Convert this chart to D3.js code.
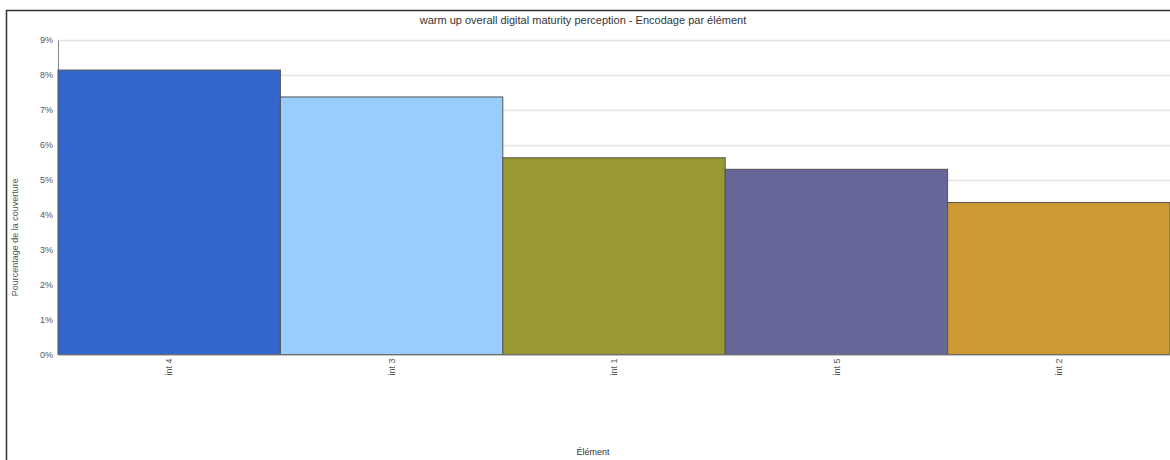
<!DOCTYPE html>
<html><head><meta charset="utf-8">
<script src="https://cdn.jsdelivr.net/npm/d3@7/dist/d3.min.js"></script>
<style>body{margin:0;background:#fff}svg{display:block}text{font-family:"Liberation Sans",Arial,sans-serif}</style>
</head><body><svg id="c" width="1170" height="460"></svg>
<script>
const categories = ["int 4","int 3","int 1","int 5","int 2"];
const values = [8.14, 7.37, 5.63, 5.30, 4.35];
const colors = ["#3366CC","#99CCFF","#999933","#666699","#CC9933"];
const yTicks = [0,1,2,3,4,5,6,7,8,9];
const title = "warm up overall digital maturity perception - Encodage par élément";
const xTitle = "Élément";
const yTitle = "Pourcentage de la couverture";

const svg = d3.select("#c");
const m = {left:58, right:1170, top:40, bottom:354.5};
const x = d3.scaleBand().domain(categories).range([m.left, m.right]).padding(0);
const y = d3.scaleLinear().domain([0,9]).range([m.bottom, m.top]);

// frame
svg.append("line").attr("x1",6).attr("x2",1170).attr("y1",10.5).attr("y2",10.5).attr("stroke","#333").attr("stroke-width",1.5);
svg.append("line").attr("x1",6.5).attr("x2",6.5).attr("y1",10).attr("y2",460).attr("stroke","#333").attr("stroke-width",1.5);

// grid
svg.append("g").selectAll("line").data(yTicks.slice(1)).join("line")
  .attr("x1",m.left).attr("x2",m.right)
  .attr("y1",d=>Math.round(y(d))+0.5).attr("y2",d=>Math.round(y(d))+0.5)
  .attr("stroke","#e4e4e4").attr("stroke-width",1.5);

// y axis
const ya = svg.append("g").attr("transform",`translate(${m.left},0)`)
  .call(d3.axisLeft(y).tickValues(yTicks).tickFormat(d=>d+"%").tickSize(0).tickPadding(5));
ya.select(".domain").attr("stroke","#888");
ya.selectAll("text").attr("fill","#555").attr("font-size",9);

// bars
svg.append("g").selectAll("rect").data(categories).join("rect")
  .attr("x",d=>x(d)).attr("width",x.bandwidth())
  .attr("y",(d,i)=>y(values[i])).attr("height",(d,i)=>y(0)-y(values[i]))
  .attr("fill",(d,i)=>colors[i]).attr("stroke","#555").attr("stroke-width",1);

// x axis
const xa = svg.append("g").attr("transform",`translate(0,${m.bottom})`)
  .call(d3.axisBottom(x).tickSize(0).tickPadding(0));
xa.select(".domain").attr("stroke","#888");
xa.selectAll("text").attr("fill","#555").attr("font-size",9)
  .attr("text-anchor","end").attr("dy","0.35em")
  .attr("transform","translate(0,4) rotate(-90)").attr("x",0).attr("y",0);

// titles
svg.append("text").attr("x",583).attr("y",24).attr("text-anchor","middle")
  .attr("font-size",11).attr("fill","#333").text(title);
svg.append("text").attr("x",593).attr("y",455).attr("text-anchor","middle")
  .attr("font-size",9).attr("fill","#333").text(xTitle);
svg.append("text").attr("transform",`translate(18,${(m.top+m.bottom)/2+40}) rotate(-90)`)
  .attr("text-anchor","middle").attr("font-size",9).attr("fill","#555").text(yTitle);
</script></body></html>
